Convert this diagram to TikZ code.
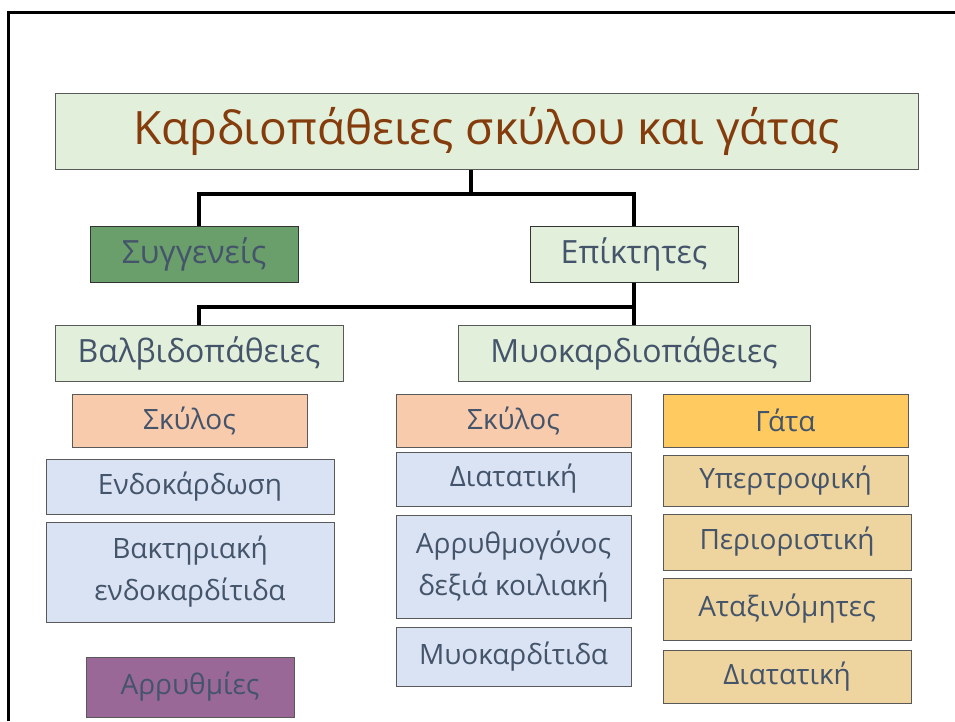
\documentclass[tikz,border=0pt]{standalone}
\usepackage{fontspec}
\setmainfont{Open Sans}
\usepackage{tikz}
\usetikzlibrary{calc}
\definecolor{ColText}{RGB}{68,84,106}
\definecolor{ColTitle}{RGB}{132,60,12}
\definecolor{ColLine}{RGB}{89,89,89}
\definecolor{ColGreen}{RGB}{226,239,218}
\definecolor{ColDark}{RGB}{106,158,107}
\definecolor{ColPeach}{RGB}{248,203,173}
\definecolor{ColBlue}{RGB}{218,227,243}
\definecolor{ColPurple}{RGB}{154,104,150}
\definecolor{ColGold}{RGB}{255,202,95}
\definecolor{ColTan}{RGB}{238,212,158}
\tikzstyle{Box}=[rectangle,draw=ColLine,line width=1pt,text=ColText,align=center,
inner sep=0pt,font=\fontsize{28}{42}\selectfont]
\tikzstyle{BoxTop}=[Box,font=\fontsize{32}{42}\selectfont]
\tikzstyle{Link}=[black,line width=3.5pt]

\begin{document}
\begin{tikzpicture}[x=1pt,y=-1pt]
        \useasboundingbox (0,0) rectangle (955,721);
        \draw[black,line width=3pt] (8,721) -- (8,12) -- (955,12);
        % title
        \node[Box,fill=ColGreen,text=ColTitle,font=\fontsize{46}{50}\selectfont,
            minimum width=863,minimum height=76](title)at(486.5,131)
            {Καρδιοπάθειες σκύλου και γάτας};
        % second level
        \node[BoxTop,fill=ColDark,draw=black!80,minimum width=208,minimum height=56](syg)at(194,254){Συγγενείς};
        \node[BoxTop,fill=ColGreen,draw=black!80,minimum width=208,minimum height=56](epi)at(634,254){Επίκτητες};
        \node[BoxTop,fill=ColGreen,minimum width=288,minimum height=56](valv)at(199,353){Βαλβιδοπάθειες};
        \node[BoxTop,fill=ColGreen,minimum width=352,minimum height=56](myo)at(634,353){Μυοκαρδιοπάθειες};
        % valve diseases
        \node[Box,fill=ColPeach,minimum width=235,minimum height=53](dogL)at(189.5,420.5){Σκύλος};
        \node[Box,fill=ColBlue,minimum width=288,minimum height=55](endo)at(190,486.5){Ενδοκάρδωση};
        \node[Box,fill=ColBlue,minimum width=288,minimum height=100](bact)at(190,572){Βακτηριακή\\ενδοκαρδίτιδα};
        \node[Box,fill=ColPurple,minimum width=208,minimum height=60](arr)at(190,687){Αρρυθμίες};
        % dog myocardial
        \node[Box,fill=ColPeach,minimum width=235,minimum height=53](dogR)at(513.5,420.5){Σκύλος};
        \node[Box,fill=ColBlue,minimum width=235,minimum height=54](dcmD)at(513.5,479){Διατατική};
        \node[Box,fill=ColBlue,minimum width=235,minimum height=103](arvc)at(513.5,566.5){Αρρυθμογόνος\\δεξιά κοιλιακή};
        \node[Box,fill=ColBlue,minimum width=235,minimum height=59](myoc)at(513.5,656.5){Μυοκαρδίτιδα};
        % cat myocardial
        \node[Box,fill=ColGold,minimum width=245,minimum height=53](cat)at(785.5,420.5){Γάτα};
        \node[Box,fill=ColTan,minimum width=245,minimum height=51](hcm)at(785.5,480.5){Υπερτροφική};
        \node[Box,fill=ColTan,minimum width=248,minimum height=56](rcm)at(787,542){Περιοριστική};
        \node[Box,fill=ColTan,minimum width=248,minimum height=62](ucm)at(787,609){Αταξινόμητες};
        \node[Box,fill=ColTan,minimum width=248,minimum height=53](dcmC)at(787,676.5){Διατατική};
        % connectors
        \coordinate(j1)at(471,194);
        \coordinate(j2)at(634,307);
        \draw[Link](title.south -| j1)--(j1);
        \draw[Link]([xshift=5pt]syg.north)|-(j1);
        \draw[Link](epi.north)|-(j1);
        \draw[Link](epi.south)--(myo.north);
        \draw[Link](valv.north)|-(j2);
    \end{tikzpicture}
\end{document}
